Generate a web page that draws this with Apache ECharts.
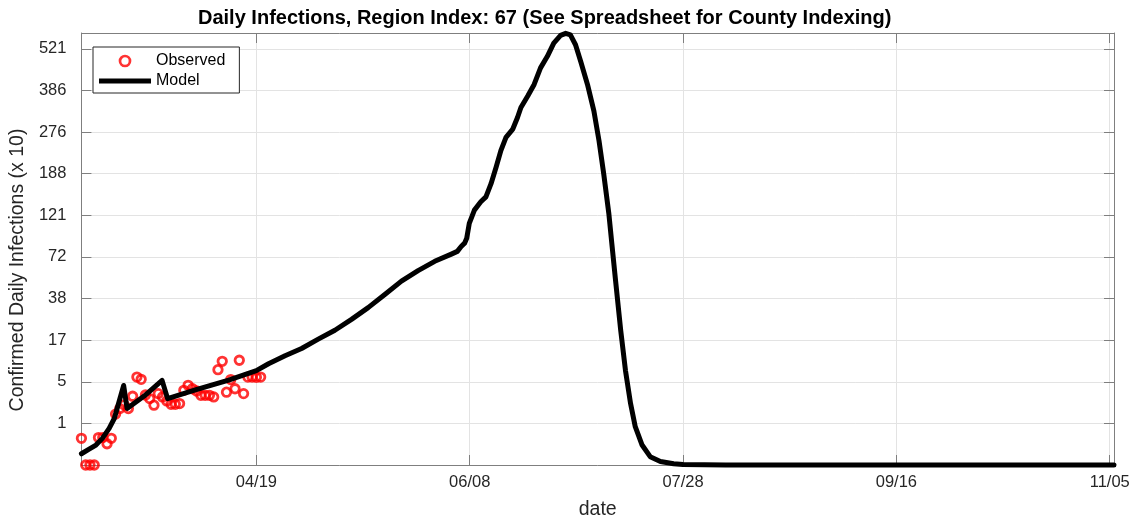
<!DOCTYPE html>
<html>
<head>
<meta charset="utf-8">
<script src="https://cdn.jsdelivr.net/npm/echarts@6/dist/echarts.min.js"></script>
<style>
  html, body { margin: 0; padding: 0; background: #fff; }
  #chart { width: 1133px; height: 525px; }
</style>
</head>
<body>
<div id="chart"></div>
<script>
// ---------------- data ----------------
// y-axis tick values (equally spaced on the transformed scale, index = position)
const yTickValues = [0, 1, 5, 17, 38, 72, 121, 188, 276, 386, 521];
// x-axis ticks: days relative to 2020-04-19
const xTickDays = [0, 50, 100, 150, 200];
const baseDateUTC = Date.UTC(2020, 3, 19);

// observed daily infections (x 10), day offset from 04/19
const obsDays = [-41, -40, -39, -38, -37, -36, -35, -34, -33, -32, -31, -30, -29, -28, -27, -26,
  -25, -24, -23, -22, -21, -20, -19, -18, -17, -16, -15, -14, -13, -12, -11, -10, -9, -8,
  -7, -6, -5, -4, -3, -2, -1, 0, 1];
const obsVals = [0.64, 0, 0, 0, 0.66, 0.66, 0.51, 0.64, 1.89, 2.42, 2.78, 2.42, 3.61, 6.34, 5.69, 3.73,
  3.38, 2.75, 3.86, 3.54, 3.16, 2.84, 2.84, 2.9, 4.18, 4.66, 4.33, 4.11, 3.7, 3.7, 3.7, 3.54, 8.49, 10.9,
  4.0, 5.63, 4.33, 11.2, 3.86, 6.34, 6.34, 6.3, 6.34];

// model curve (x 10), day offset from 04/19
const modelDays = [-41, -39.2, -37.6, -36.1, -34.5, -33.3, -32.2, -31.1, -30.3, -26.3, -22.1, -20.8,
  -14.3, -6.5, 0, 2.85, 6.72, 10.6, 14.5, 18.4, 22.3, 26.2, 30.1, 34.0, 37.9, 41.8, 45.7, 47.1,
  48.0, 48.8, 49.3, 49.9, 51.1, 52.6, 53.8, 55.0, 56.2, 57.3, 58.5, 60.1, 61.2, 62.0, 63.6, 65.1,
  66.6, 68.2, 69.7, 71.3, 72.5, 73.6, 74.8, 76.0, 77.6, 79.1, 80.3, 81.4, 82.6, 83.3, 84.2, 85.4,
  86.5, 87.7, 88.8, 90.4, 92.3, 94.7, 97.8, 100, 110, 201];
const modelVals = [0.27, 0.38, 0.48, 0.64, 0.88, 1.47, 3.06, 4.64, 2.43, 3.63, 5.4, 3.38,
  4.21, 5.49, 8.2, 10.2, 12.5, 14.6, 17.5, 22.0, 27.5, 33.4, 41.3, 52.2, 60.8, 68.4, 75.3, 78.5,
  84.3, 88.2, 94.0, 111.5, 129.3, 142.7, 150.7, 171.9, 202, 236.8, 264.9, 283.9, 314.5, 340.8, 371.2, 405.4,
  459.2, 496.6, 539.6, 564.7, 571.2, 566.4, 534.2, 480.5, 405.4, 331.9, 257.8, 188, 124.1, 88.2, 52.2, 21.7,
  8.3, 2.9, 0.92, 0.48, 0.2, 0.086, 0.03, 0.012, 0.002, 0];

// ---------------- scale helpers ----------------
function toAxis(v) {
  const t = yTickValues;
  for (let i = 0; i < t.length - 1; i++) {
    if (v <= t[i + 1]) return i + (v - t[i]) / (t[i + 1] - t[i]);
  }
  const n = t.length - 1;
  return n + (v - t[n]) / (t[n] - t[n - 1]);
}
function dayLabel(v) {
  const d = new Date(baseDateUTC + v * 86400000);
  const mm = String(d.getUTCMonth() + 1).padStart(2, '0');
  const dd = String(d.getUTCDate()).padStart(2, '0');
  return mm + '/' + dd;
}

const FONT = 'Liberation Sans, Arial, Helvetica, sans-serif';
const AXIS_COLOR = '#7f7f7f';
const GRID_COLOR = '#e3e3e3';
const TEXT_COLOR = '#262626';
const X_MIN = -41, X_MAX = 201, Y_MAX = 10.38;

const chart = echarts.init(document.getElementById('chart'), null, { renderer: 'canvas' });

const axisLineStyle = { show: true, onZero: false, lineStyle: { color: AXIS_COLOR, width: 1 } };

const option = {
  animation: false,
  backgroundColor: '#ffffff',
  title: {
    text: 'Daily Infections, Region Index: 67 (See Spreadsheet for County Indexing)',
    left: 193, top: 3,
    textStyle: { fontFamily: FONT, fontSize: 20, fontWeight: 'bold', color: '#000' }
  },
  legend: {
    orient: 'vertical', left: 93, top: 47,
    itemWidth: 52, itemHeight: 10, itemGap: 2,
    padding: [5, 14, 3, 6],
    borderColor: '#262626', borderWidth: 1, backgroundColor: '#ffffff',
    textStyle: { fontFamily: FONT, fontSize: 16, color: '#000', lineHeight: 18 },
    data: [
      { name: 'Observed', icon: 'circle',
        itemStyle: { color: 'rgba(0,0,0,0)', borderColor: '#ff0000', borderWidth: 2.7 } },
      { name: 'Model', icon: 'path://M0,0L52,0L52,5L0,5Z',
        itemStyle: { color: '#000', borderWidth: 0 } }
    ]
  },
  grid: { left: 78.7, right: 19, top: 33, bottom: 56.4, containLabel: false },
  xAxis: [
    {
      type: 'value', min: X_MIN, max: X_MAX, position: 'bottom',
      axisLine: axisLineStyle,
      axisTick: { show: true, inside: true, length: 10, customValues: xTickDays,
        lineStyle: { color: AXIS_COLOR } },
      axisLabel: {
        customValues: xTickDays,
        margin: 9, fontFamily: FONT, fontSize: 16.5, color: TEXT_COLOR,
        formatter: v => (xTickDays.indexOf(v) >= 0 ? dayLabel(v) : '')
      },
      splitLine: { show: true, lineStyle: { color: GRID_COLOR, width: 1 } },
      name: 'date', nameLocation: 'middle', nameGap: 35,
      nameTextStyle: { fontFamily: FONT, fontSize: 19.5, color: TEXT_COLOR }
    },
    {
      type: 'value', min: X_MIN, max: X_MAX, position: 'top',
      axisLine: axisLineStyle,
      axisTick: { show: true, inside: true, length: 10, customValues: xTickDays,
        lineStyle: { color: AXIS_COLOR } },
      axisLabel: { show: false },
      splitLine: { show: false }
    }
  ],
  yAxis: [
    {
      type: 'value', min: 0, max: Y_MAX, interval: 1, position: 'left',
      axisLine: axisLineStyle,
      axisTick: { show: true, inside: true, length: 10, lineStyle: { color: AXIS_COLOR } },
      axisLabel: {
        margin: 15, fontFamily: FONT, fontSize: 16.5, color: TEXT_COLOR,
        formatter: v => {
          const k = Math.round(v);
          return (Math.abs(v - k) < 1e-6 && k >= 1 && k < yTickValues.length) ? String(yTickValues[k]) : '';
        }
      },
      splitLine: { show: true, lineStyle: { color: GRID_COLOR, width: 1 } },
      name: 'Confirmed Daily Infections (x 10)', nameLocation: 'middle', nameGap: 49, nameRotate: 90,
      nameTextStyle: { fontFamily: FONT, fontSize: 19.5, color: TEXT_COLOR, padding: [0, 42, 0, 0] }
    },
    {
      type: 'value', min: 0, max: Y_MAX, interval: 1, position: 'right',
      axisLine: axisLineStyle,
      axisTick: { show: true, inside: true, length: 10, lineStyle: { color: AXIS_COLOR } },
      axisLabel: { show: false },
      splitLine: { show: false }
    }
  ],
  series: [
    {
      name: 'Observed', type: 'scatter', xAxisIndex: 0, yAxisIndex: 0,
      data: obsDays.map((d, i) => [d, toAxis(obsVals[i])]),
      symbol: 'circle', symbolSize: 8.5, clip: false, z: 3,
      itemStyle: { color: 'rgba(0,0,0,0)', borderColor: '#ff0000', borderWidth: 2.8 }
    },
    {
      name: 'Model', type: 'line', xAxisIndex: 0, yAxisIndex: 0,
      data: modelDays.map((d, i) => [d, toAxis(modelVals[i])]),
      symbol: 'none', showSymbol: false, smooth: false, clip: false, z: 4,
      itemStyle: { color: '#000' },
      lineStyle: { color: '#000', width: 5, join: 'round', cap: 'round' }
    }
  ]
};
chart.setOption(option);
</script>
</body>
</html>
